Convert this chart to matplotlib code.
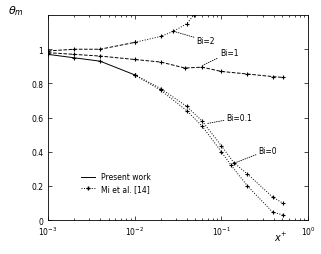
import matplotlib
matplotlib.use('Agg')
import matplotlib.pyplot as plt
from matplotlib.lines import Line2D

# 数据
x_bi2 = [1e-3, 2e-3, 4e-3, 1e-2, 2e-2, 2.8e-2, 4e-2, 4.8e-2]
y_bi2 = [0.99, 1.0, 1.0, 1.04, 1.075, 1.105, 1.15, 1.2]

x_bi1 = [1e-3, 2e-3, 4e-3, 1e-2, 2e-2, 3.8e-2, 6e-2, 1e-1, 2e-1, 3.9e-1, 5.1e-1]
y_bi1 = [0.98, 0.97, 0.96, 0.94, 0.925, 0.89, 0.895, 0.87, 0.855, 0.84, 0.835]

x_bi01 = [1e-3, 2e-3, 4e-3, 1e-2, 2e-2, 4e-2, 6e-2, 1e-1, 1.4e-1, 2e-1, 3.9e-1, 5.1e-1]
y_bi01 = [0.97, 0.95, 0.93, 0.85, 0.77, 0.665, 0.58, 0.435, 0.335, 0.27, 0.135, 0.10]

x_bi0 = [1e-2, 2e-2, 4e-2, 6e-2, 1e-1, 1.3e-1, 2e-1, 3.9e-1, 5.1e-1]
y_bi0 = [0.85, 0.76, 0.64, 0.55, 0.40, 0.32, 0.20, 0.047, 0.03]

fig = plt.figure(figsize=(3.21, 2.55), dpi=100)
ax = fig.add_axes([0.1495, 0.133, 0.81, 0.804])

fs = 5.5
mk = dict(marker='+', ms=2.5, mew=0.8)
# Bi=2：前段虚线，后段点线
ax.plot(x_bi2[:4], y_bi2[:4], 'k--', lw=0.7, **mk)
ax.plot(x_bi2[3:], y_bi2[3:], 'k:', lw=0.7, **mk)
# Bi=1
ax.plot(x_bi1, y_bi1, 'k--', lw=0.7, **mk)
# Bi=0.1：前段实线，后段点线
ax.plot(x_bi01[:4], y_bi01[:4], 'k-', lw=0.7, **mk)
ax.plot(x_bi01[3:], y_bi01[3:], 'k:', lw=0.7, **mk)
# Bi=0
ax.plot(x_bi0, y_bi0, 'k:', lw=0.7, **mk)

ax.set_xscale('log')
ax.set_xlim(1e-3, 1)
ax.set_ylim(0, 1.2)
ax.set_yticks([0, 0.2, 0.4, 0.6, 0.8, 1.0])
ax.set_yticklabels(['0', '0.2', '0.4', '0.6', '0.8', '1'])
ax.tick_params(which='both', direction='in', top=True, right=True, labelsize=fs, width=0.5)
ax.tick_params(which='major', length=3)
ax.tick_params(which='minor', length=1.5)
for s in ax.spines.values():
    s.set_linewidth(0.6)

# 标注
ap = dict(arrowstyle='-', linestyle=':', lw=0.6, color='k', shrinkA=0, shrinkB=0)
ax.annotate('Bi=2', xy=(0.0276, 1.106), xytext=(0.052, 1.05), fontsize=fs, va='center', arrowprops=ap)
ax.annotate('Bi=1', xy=(0.061, 0.906), xytext=(0.096, 0.98), fontsize=fs, va='center', arrowprops=ap)
ax.annotate('Bi=0.1', xy=(0.068, 0.565), xytext=(0.115, 0.60), fontsize=fs, va='center', arrowprops=ap)
ax.annotate('Bi=0', xy=(0.1436, 0.335), xytext=(0.27, 0.41), fontsize=fs, va='center', arrowprops=ap)

# 图例
handles = [Line2D([0], [0], color='k', lw=0.7),
           Line2D([0], [0], color='k', lw=0.7, ls=':', marker='+', ms=3)]
ax.legend(handles, ['Present work', 'Mi et al. [14]'], loc='lower left',
          bbox_to_anchor=(0.1, 0.1), frameon=False, fontsize=fs,
          handlelength=1.8, labelspacing=0.3)

fig.text(0.025, 0.945, r'$\theta_m$', fontsize=8)
ax.text(0.87, -0.1, r'$x^{+}$', transform=ax.transAxes, fontsize=7)

plt.savefig('out.png', dpi=100, facecolor='white')
